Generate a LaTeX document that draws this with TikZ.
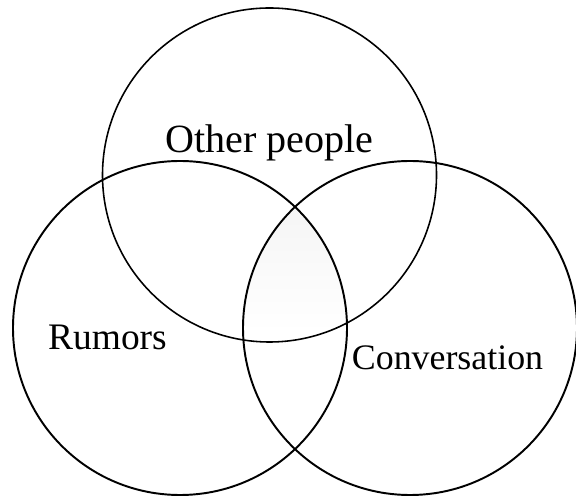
\documentclass[tikz,border=0pt]{standalone}
\usepackage{fontspec}
\setmainfont{Liberation Serif}
\usetikzlibrary{positioning}
\tikzset{
  every picture/.style={line width=1.1pt},
  ring/.style={draw=black, line width=1.1pt},
  lab/.style={font=\fontsize{#1}{#1}\selectfont, anchor=base, inner sep=0pt},
  lab/.default=21,
}

\begin{document}
\begin{tikzpicture}
  \useasboundingbox (0,0) rectangle (11.52,9.96);
  % centres
  \coordinate (top) at (5.39,6.46);
  \coordinate (left) at (3.60,3.40);
  \coordinate (right) at (8.20,3.40);
  % faint shade in the upper part of the middle lens
  \begin{scope}
    \clip (left) circle (3.34);
    \clip (right) circle (3.34);
    \shade[top color=black!4, bottom color=white] (4.5,5.9) rectangle (7.3,3.3);
  \end{scope}
  \draw[ring, line width=0.9pt] (top) circle (3.34);
  \draw[ring] (left) circle (3.34);
  \draw[ring] (right) circle (3.34);
  % labels
  \node[lab=22.8] (other) at (5.39,6.90) {Other people};
  \node[lab=21.3] (rumors) at (2.15,2.96) {Rumors};
  \node[lab=20.4] (conv) at (8.95,2.56) {Conversation};
\end{tikzpicture}
\end{document}
